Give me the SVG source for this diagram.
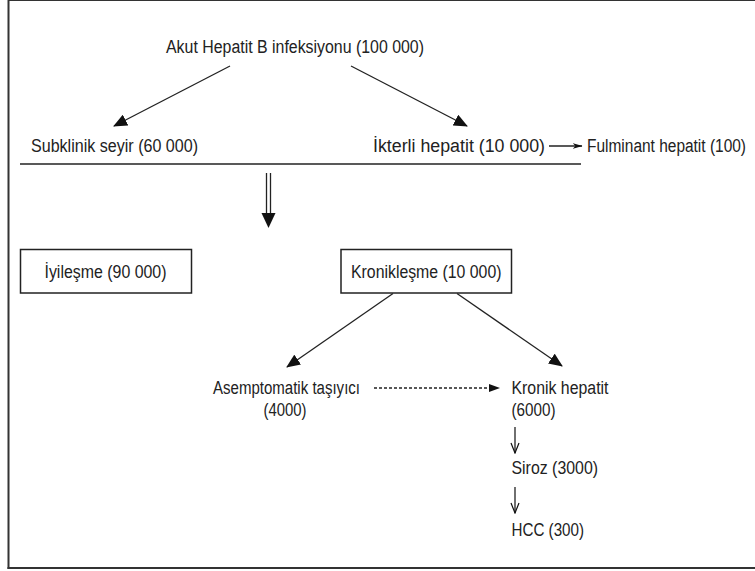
<svg xmlns="http://www.w3.org/2000/svg" width="755" height="571" viewBox="0 0 755 571">
<defs>
<style>
text{font-family:"Liberation Sans",Arial,sans-serif;font-size:18px;fill:#222;}
.ln{stroke:#222;stroke-width:1.3;fill:none;}
.box{fill:#fff;stroke:#222;stroke-width:1.5;}
.frame{stroke:#333;fill:none;}
</style>
<marker id="ah" markerUnits="userSpaceOnUse" markerWidth="14" markerHeight="12" viewBox="0 0 14 12" refX="13" refY="6" orient="auto">
<path d="M0,0 L14,6 L0,12 Z" fill="#111"/>
</marker>
<marker id="ahs" markerUnits="userSpaceOnUse" markerWidth="11" markerHeight="8" viewBox="0 0 11 8" refX="10" refY="4" orient="auto">
<path d="M0,0 L11,4 L0,8 Z" fill="#111"/>
</marker>
<marker id="ahn" markerUnits="userSpaceOnUse" markerWidth="10" markerHeight="8" viewBox="0 0 10 8" refX="9.5" refY="4" orient="auto">
<path d="M0,1 L10,4 L0,7 L3,4 Z" fill="#111"/>
</marker>
<marker id="aho" markerUnits="userSpaceOnUse" markerWidth="12" markerHeight="10" viewBox="0 0 12 10" refX="11" refY="5" orient="auto">
<path d="M1,1 L11,5 L1,9" fill="none" stroke="#111" stroke-width="1.2"/>
</marker>
</defs>
<g id="frame">
<line class="frame" x1="8.5" y1="0.5" x2="755" y2="0.5" stroke-width="1"/>
<line class="frame" x1="8.5" y1="0" x2="8.5" y2="569" stroke-width="2"/>
<line class="frame" x1="7.5" y1="568" x2="755" y2="568" stroke-width="2"/>
</g>
<g id="connectors">
<line class="ln" x1="230" y1="66" x2="114" y2="126" marker-end="url(#ah)"/>
<line class="ln" x1="351" y1="66" x2="467" y2="126" marker-end="url(#ah)"/>
<line class="ln" x1="549" y1="146" x2="582" y2="146" marker-end="url(#ahn)"/>
<line class="ln" x1="20" y1="164" x2="581" y2="164" stroke-width="1.6"/>
<line class="ln" x1="266.5" y1="173" x2="266.5" y2="215"/>
<line class="ln" x1="270.5" y1="173" x2="270.5" y2="215"/>
<path d="M261.5,213 L275.5,213 L268.5,228 Z" fill="#111"/>
<line class="ln" x1="393" y1="293.5" x2="287" y2="367" marker-end="url(#ah)"/>
<line class="ln" x1="457" y1="293.5" x2="562" y2="366" marker-end="url(#ah)"/>
<line class="ln" x1="374" y1="388" x2="499" y2="388" stroke-dasharray="3,2" marker-end="url(#ahs)"/>
<line class="ln" x1="515" y1="427" x2="515" y2="453" marker-end="url(#aho)"/>
<line class="ln" x1="515" y1="487" x2="515" y2="513" marker-end="url(#aho)"/>
</g>
<g id="n-akut"><text x="166" y="53" textLength="258" lengthAdjust="spacingAndGlyphs">Akut Hepatit B infeksiyonu (100 000)</text></g>
<g id="n-subklinik"><text x="31" y="152" textLength="167" lengthAdjust="spacingAndGlyphs">Subklinik seyir (60 000)</text></g>
<g id="n-ikterli"><text x="373" y="152" textLength="172" lengthAdjust="spacingAndGlyphs">İkterli hepatit (10 000)</text></g>
<g id="n-fulminant"><text x="587" y="152" textLength="159" lengthAdjust="spacingAndGlyphs">Fulminant hepatit (100)</text></g>
<g id="n-iyilesme">
<rect class="box" x="20.5" y="249.5" width="171" height="43.5"/>
<text x="44.5" y="278" textLength="122" lengthAdjust="spacingAndGlyphs">İyileşme (90 000)</text>
</g>
<g id="n-kroniklesme">
<rect class="box" x="341" y="249.5" width="170.5" height="43.5"/>
<text x="351" y="278" textLength="150.5" lengthAdjust="spacingAndGlyphs">Kronikleşme (10 000)</text>
</g>
<g id="n-asemptomatik">
<text x="213" y="394" textLength="147" lengthAdjust="spacingAndGlyphs">Asemptomatik taşıyıcı</text>
<text x="263.5" y="415.5" textLength="43" lengthAdjust="spacingAndGlyphs">(4000)</text>
</g>
<g id="n-kronikhepatit">
<text x="511.5" y="394" textLength="97" lengthAdjust="spacingAndGlyphs">Kronik hepatit</text>
<text x="511.5" y="415.5" textLength="44" lengthAdjust="spacingAndGlyphs">(6000)</text>
</g>
<g id="n-siroz"><text x="511.5" y="473.5" textLength="86.5" lengthAdjust="spacingAndGlyphs">Siroz (3000)</text></g>
<g id="n-hcc"><text x="511.5" y="535.5" textLength="72.5" lengthAdjust="spacingAndGlyphs">HCC (300)</text></g>
</svg>
